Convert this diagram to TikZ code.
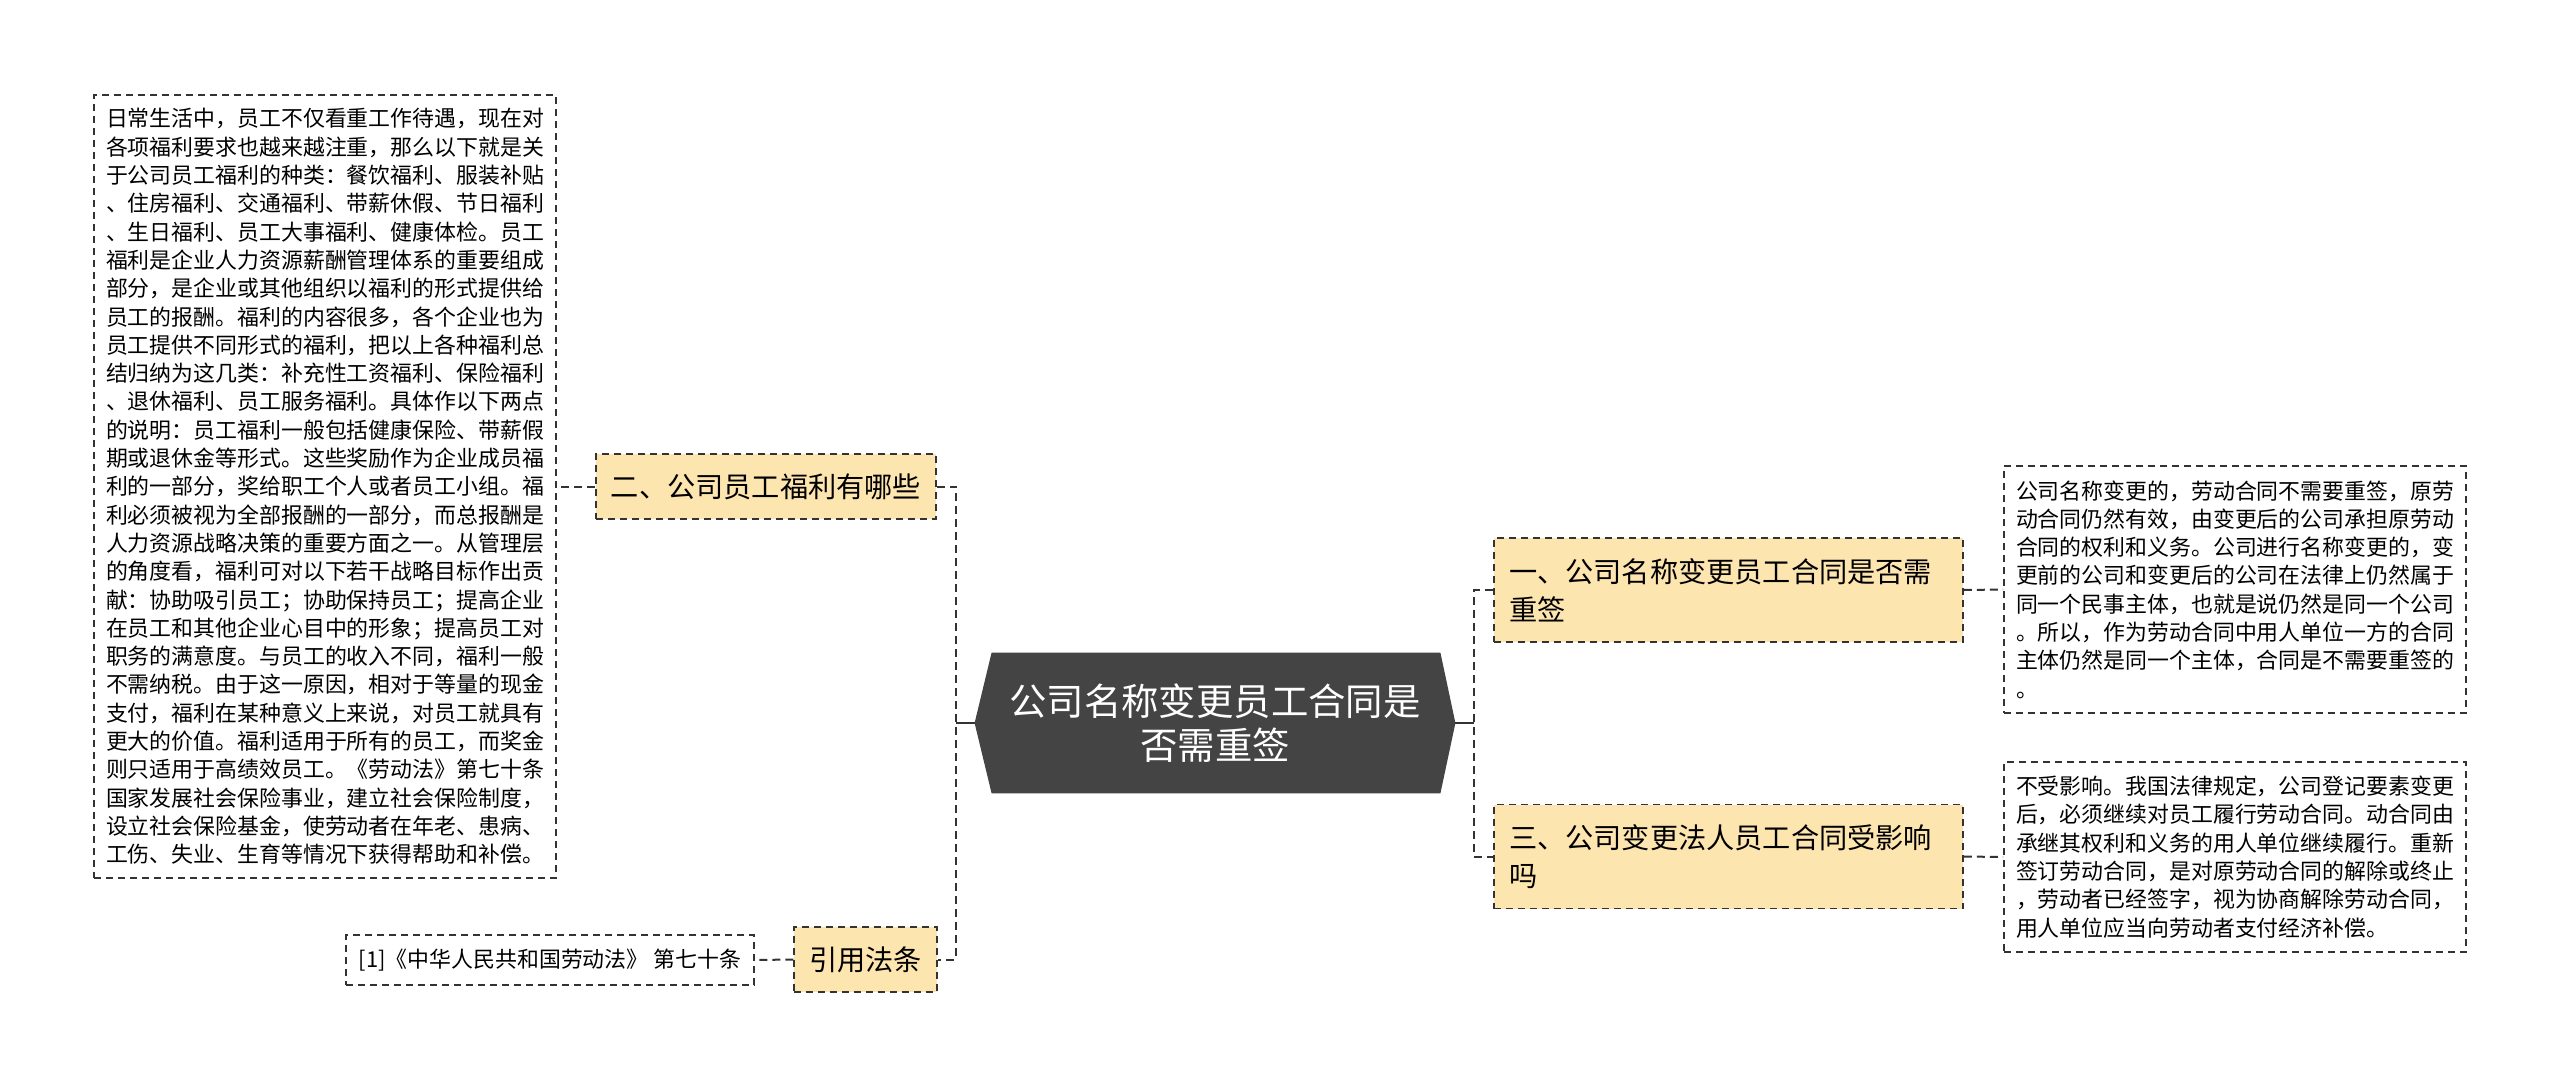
\documentclass[tikz,border=0pt]{standalone}
\usepackage{fontspec}
\setmainfont{Noto Sans CJK SC}
\usetikzlibrary{calc,backgrounds}
\definecolor{hubgray}{RGB}{68,68,68}
\definecolor{topicfill}{RGB}{253,229,176}
\definecolor{linegray}{RGB}{51,51,51}
\tikzset{
  brd/.style   ={draw=linegray, line width=0.8pt, dash pattern=on 3.5pt off 2.5pt},
  hub/.style   ={minimum width=240pt, minimum height=70pt, inner sep=0pt,
                 align=center, text=white, font=\fontsize{18.7}{22}\selectfont},
  tag/.style   ={brd, fill=topicfill, inner xsep=7.5pt, minimum height=32.5pt,
                 font=\fontsize{14.1}{19}\selectfont},
  topic/.style ={tag, align=left, text width=219.5pt, minimum height=52pt},
  note/.style  ={brd, fill=white, align=left, inner xsep=6pt,
                 font=\fontsize{10.95}{14.15}\selectfont},
  lnk/.style   ={draw=linegray, line width=1pt},
  dlnk/.style  ={lnk, dash pattern=on 4pt off 2.5pt},
}

\begin{document}
\begin{tikzpicture}[x=0.5pt, y=-0.5pt]
  \useasboundingbox (0,0) rectangle (2560,1087);

  % ---- centre ----------------------------------------------------------
  \node[hub] (hub) at (1215,723) {公司名称变更员工合同是\\否需重签};
  \begin{scope}[on background layer]
    \fill[white] (0,0) rectangle (2560,1087);
    \fill[hubgray] ($(hub.north west)+(8.5pt,0)$) -- ($(hub.north east)+(-7.5pt,0)$)
      -- (hub.east) -- ($(hub.south east)+(-7.5pt,0)$)
      -- ($(hub.south west)+(8.5pt,0)$) -- (hub.west) -- cycle;
  \end{scope}
  \coordinate (ls) at (956,723);
  \coordinate (rs) at (1474,723);

  % ---- left branch -----------------------------------------------------
  \node[tag] (welfare) at (766,486.5) {二、公司员工福利有哪些};
  \node[tag] (law) at (865.5,959.5) {引用法条};
  \node[note, minimum width=231pt, minimum height=391.5pt] (welfaretxt) at (325,486.5)
        {日常生活中，员工不仅看重工作待遇，现在对\\
         各项福利要求也越来越注重，那么以下就是关\\
         于公司员工福利的种类：餐饮福利、服装补贴\\
         、住房福利、交通福利、带薪休假、节日福利\\
         、生日福利、员工大事福利、健康体检。员工\\
         福利是企业人力资源薪酬管理体系的重要组成\\
         部分，是企业或其他组织以福利的形式提供给\\
         员工的报酬。福利的内容很多，各个企业也为\\
         员工提供不同形式的福利，把以上各种福利总\\
         结归纳为这几类：补充性工资福利、保险福利\\
         、退休福利、员工服务福利。具体作以下两点\\
         的说明：员工福利一般包括健康保险、带薪假\\
         期或退休金等形式。这些奖励作为企业成员福\\
         利的一部分，奖给职工个人或者员工小组。福\\
         利必须被视为全部报酬的一部分，而总报酬是\\
         人力资源战略决策的重要方面之一。从管理层\\
         的角度看，福利可对以下若干战略目标作出贡\\
         献：协助吸引员工；协助保持员工；提高企业\\
         在员工和其他企业心目中的形象；提高员工对\\
         职务的满意度。与员工的收入不同，福利一般\\
         不需纳税。由于这一原因，相对于等量的现金\\
         支付，福利在某种意义上来说，对员工就具有\\
         更大的价值。福利适用于所有的员工，而奖金\\
         则只适用于高绩效员工。《劳动法》第七十条\\
         国家发展社会保险事业，建立社会保险制度，\\
         设立社会保险基金，使劳动者在年老、患病、\\
         工伤、失业、生育等情况下获得帮助和补偿。};
  \node[note, minimum width=204pt, minimum height=25pt] (cite) at (550,960)
        {[1]《中华人民共和国劳动法》 第七十条};

  % ---- right branch ----------------------------------------------------
  \node[topic] (rename) at (1728.5,590) {一、公司名称变更员工合同是否需\\重签};
  \node[topic] (legal) at (1728.5,856.5) {三、公司变更法人员工合同受影响\\吗};
  \node[note, minimum width=231pt, minimum height=123.5pt] (renametxt) at (2235,589.5)
        {公司名称变更的，劳动合同不需要重签，原劳\\
         动合同仍然有效，由变更后的公司承担原劳动\\
         合同的权利和义务。公司进行名称变更的，变\\
         更前的公司和变更后的公司在法律上仍然属于\\
         同一个民事主体，也就是说仍然是同一个公司\\
         。所以，作为劳动合同中用人单位一方的合同\\
         主体仍然是同一个主体，合同是不需要重签的\\
         。};
  \node[note, minimum width=231pt, minimum height=95pt] (legaltxt) at (2235,857)
        {不受影响。我国法律规定，公司登记要素变更\\
         后，必须继续对员工履行劳动合同。动合同由\\
         承继其权利和义务的用人单位继续履行。重新\\
         签订劳动合同，是对原劳动合同的解除或终止\\
         ，劳动者已经签字，视为协商解除劳动合同，\\
         用人单位应当向劳动者支付经济补偿。};

  % ---- links -----------------------------------------------------------
  \draw[lnk] (hub.west) -- (ls);
  \draw[lnk] (hub.east) -- (rs);
  \draw[dlnk] (welfare.east) -| (ls) |- (law.east);
  \draw[dlnk] (rename.west) -| (rs) |- (legal.west);
  \draw[dlnk] (welfare.west) -- (welfaretxt.east);
  \draw[dlnk] (law.west) -- (cite.east);
  \draw[dlnk] (rename.east) -- (renametxt.west);
  \draw[dlnk] (legal.east) -- (legaltxt.west);
\end{tikzpicture}
\end{document}
